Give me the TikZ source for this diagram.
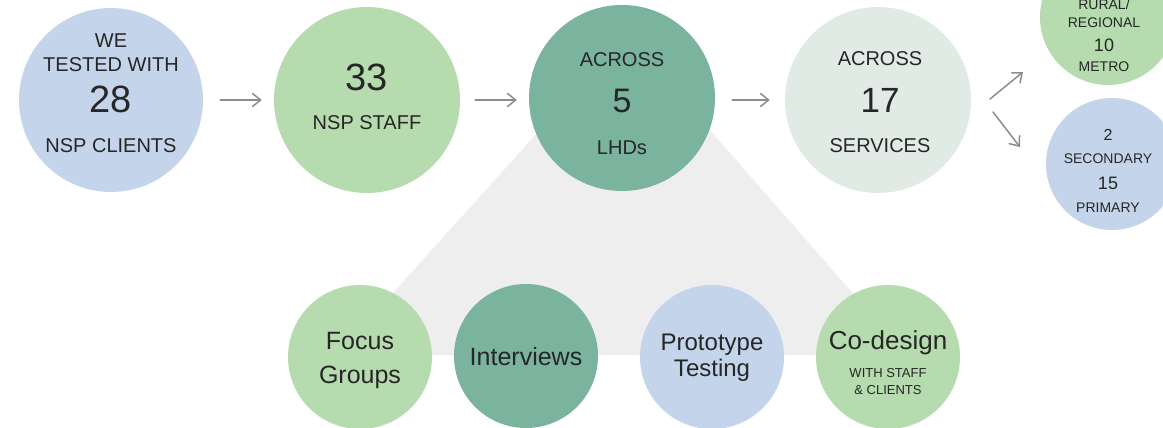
\documentclass[tikz,border=0pt]{standalone}
\usepackage{fontspec}
\setmainfont{Liberation Sans}
\usetikzlibrary{arrows.meta}
\definecolor{cblue}{HTML}{C4D4EA}
\definecolor{cgreen}{HTML}{B6DBAE}
\definecolor{cteal}{HTML}{7AB39E}
\definecolor{cpale}{HTML}{E1EBE5}
\definecolor{cgray}{HTML}{EEEEEE}
\definecolor{ctext}{HTML}{262626}
\definecolor{carrow}{HTML}{8C8C8C}
\newcommand{\fsz}[1]{\fontsize{#1}{#1}\selectfont}
\tikzset{
  disc/.style={circle, draw=none, inner sep=0pt, minimum size=#1},
  lbl/.style={text=ctext, inner sep=0pt, anchor=base},
  arr/.style={draw=carrow, line width=1.5pt, line cap=round,
    -{Straight Barb[length=8pt,width=13pt,line cap=round]}},
}
\begin{document}
\begin{tikzpicture}[x=1pt,y=-1pt]
\useasboundingbox (0,0) rectangle (1163,428);
% gray trapezoid behind
\fill[cgray] (549,120) -- (701,120) -- (907,355) -- (337,355) -- cycle;

% top row
\node[disc=184pt, fill=cblue]  (cli) at (111,100) {};
\node[disc=186pt, fill=cgreen] (stf) at (367,100) {};
\node[disc=186pt, fill=cteal]  (lhd) at (622,98) {};
\node[disc=186pt, fill=cpale]  (svc) at (878,100) {};
\node[disc=136pt, fill=cgreen] (rur) at (1108,17) {};
\node[disc=132pt, fill=cblue]  (sec) at (1112,164) {};

% bottom row
\node[disc=144pt, fill=cgreen] (foc) at (360,357) {};
\node[disc=144pt, fill=cteal]  (int) at (526,356) {};
\node[disc=144pt, fill=cblue]  (pro) at (712,357) {};
\node[disc=144pt, fill=cgreen] (cod) at (888,357) {};

% texts: clients
\node[lbl] (t1) at (111,47.2)  {\fsz{20}WE};
\node[lbl] (t2) at (111,71.2)  {\fsz{20}TESTED WITH};
\node[lbl] (t3) at (111,112.6) {\fsz{38}28};
\node[lbl] (t4) at (111,152.2) {\fsz{20}NSP CLIENTS};
% staff
\node[lbl] (t5) at (367,90.6)  {\fsz{38}33};
\node[lbl] (t6) at (367,129.2) {\fsz{20}NSP STAFF};
% LHDs
\node[lbl] (t7) at (622,66.2)  {\fsz{20}ACROSS};
\node[lbl] (t8) at (622,112.2) {\fsz{34}5};
\node[lbl] (t9) at (622,154.2) {\fsz{20}LHDs};
% services
\node[lbl] (t10) at (880,65.2)  {\fsz{20}ACROSS};
\node[lbl] (t11) at (880,112.5) {\fsz{35}17};
\node[lbl] (t12) at (880,152.2) {\fsz{20}SERVICES};
% rural
\node[lbl] (t13) at (1104,10)   {\fsz{14}RURAL/};
\node[lbl] (t14) at (1104,28)   {\fsz{14}REGIONAL};
\node[lbl] (t15) at (1104,51.4) {\fsz{18}10};
\node[lbl] (t16) at (1104,72)   {\fsz{14}METRO};
% secondary
\node[lbl] (t17) at (1108,140.7) {\fsz{16}2};
\node[lbl] (t18) at (1108,163)   {\fsz{14}SECONDARY};
\node[lbl] (t19) at (1108,189.4) {\fsz{18}15};
\node[lbl] (t20) at (1108,212)   {\fsz{14}PRIMARY};
% bottom
\node[lbl] (t21) at (360,349)   {\fsz{25}Focus};
\node[lbl] (t22) at (360,383)   {\fsz{25}Groups};
\node[lbl] (t23) at (526,365)   {\fsz{25}Interviews};
\node[lbl] (t24) at (712,350.6) {\fsz{24}Prototype};
\node[lbl] (t25) at (712,376.6) {\fsz{24}Testing};
\node[lbl] (t26) at (888,349.3) {\fsz{26}Co-design};
\node[lbl] (t27) at (888,377.7) {\fsz{13}WITH STAFF};
\node[lbl] (t28) at (888,394.7) {\fsz{13}\& CLIENTS};

% arrows
\draw[arr, shorten <=17pt, shorten >=12pt] (cli.east) -- (stf.west);
\draw[arr, shorten <=15pt, shorten >=12pt] (stf.east) -- (lhd.west |- stf.west);
\draw[arr, shorten <=17pt, shorten >=15pt] (lhd.east |- svc.west) -- (svc.west);
\coordinate (ua) at (990,99);
\coordinate (ub) at (1023,72);
\coordinate (da) at (993,112);
\coordinate (db) at (1020,147);
\draw[arr] (ua) -- (ub);
\draw[arr] (da) -- (db);
\end{tikzpicture}
\end{document}
